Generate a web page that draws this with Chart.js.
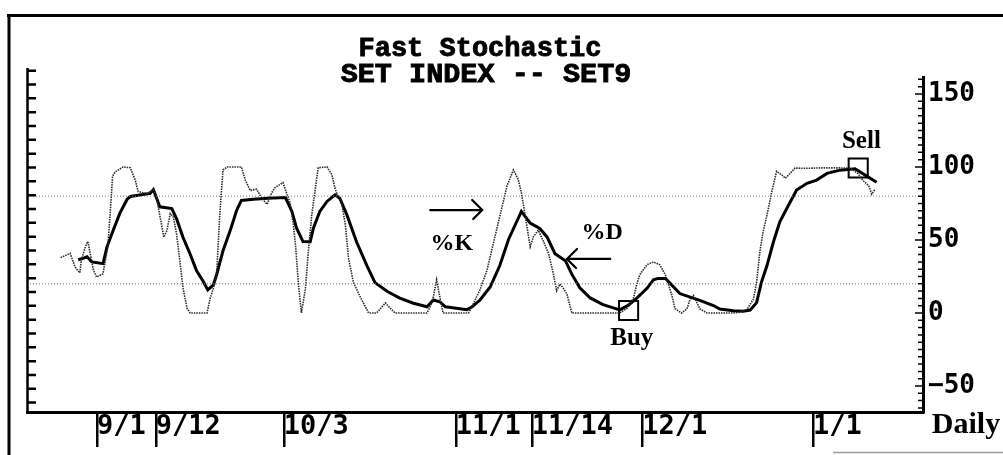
<!DOCTYPE html>
<html><head><meta charset="utf-8">
<script src="https://cdn.jsdelivr.net/npm/chart.js@4/dist/chart.umd.min.js"></script>
<style>html,body{margin:0;padding:0;background:#fff;overflow:hidden}</style>
</head><body>
<canvas id="c" width="1003" height="455"></canvas>
<script>
// ---- data (trading-day index on x, stochastic % on y) ----
const titleLines = ['Fast Stochastic', 'SET INDEX -- SET9'];
const tickDays   = [8.75, 16.1, 32.1, 53.6, 63.1, 76.9, 98.25];
const tickLabels = ['9/1', '9/12', '10/3', '11/1', '11/14', '12/1', '1/1'];
const yTickValues = [-50, 0, 50, 100, 150];
const refLevels = [80, 20];

const kDays = [4.2,5.4,6.0,6.6,6.8,7.3,7.6,7.9,8.3,8.7,
  9.5,10.1,10.4,10.7,11.0,12.0,12.9,13.5,13.9,15.0,
  15.8,16.2,16.4,16.8,17.1,17.5,17.9,18.3,18.7,19.1,
  19.5,20.0,20.4,22.5,22.9,23.3,23.7,24.1,24.5,25.0,
  26.8,27.3,27.9,28.7,29.3,30.0,30.6,31.0,32.0,32.5,
  32.9,33.3,33.6,33.9,34.3,34.8,35.2,35.6,36.0,36.4,
  37.5,38.1,38.5,38.8,39.3,39.8,40.2,40.8,41.6,42.7,
  43.7,44.8,45.2,46.0,50.0,50.4,50.8,51.2,51.6,52.0,
  55.2,55.8,56.6,57.5,58.3,59.1,60.0,60.8,61.4,61.8,
  62.3,62.9,63.3,63.9,64.5,65.2,65.8,66.2,66.6,67.0,
  67.5,68.1,74.1,75.0,75.8,76.2,76.6,77.5,78.3,79.1,
  79.8,80.2,80.6,81.0,81.8,82.5,82.9,83.3,83.7,84.1,
  85.0,88.3,89.1,90.0,90.8,91.2,91.6,92.0,92.5,93.1,
  93.7,94.3,94.8,95.4,96.0,97.5,99.5,102.9,103.9,104.5,
  105.2,105.6,106.0];
const kValues = [37.9,40.8,31.6,27.5,36.4,45.4,48.9,40.8,29.5,24.6,
  26.9,45.3,68.3,93.7,96.5,100,99.5,91.5,83.2,81.7,
  84.5,79.6,72.7,61.1,51.9,56.7,68.0,65.7,54.1,35.9,
  17.2,3.3,0,0,10.1,17.0,26.2,67.8,97.9,100,
  100,90.9,83.9,84.8,79.0,74.4,82.4,85.9,89.3,81.2,
  75.4,60.4,44.3,21.5,0,16.5,44.2,67.3,83.6,99.5,
  100,94.8,85.5,80.9,76.5,60.1,37.1,21.1,11.6,0,
  0,6.9,4.5,0,0,4.3,11.1,22.7,11.1,0,
  0,6.4,15.6,29.3,47.8,66.2,86.9,98,91.5,82.2,
  66.0,45.3,52.2,56.7,49.8,40.6,26.7,15.2,19.8,17.4,
  12.9,0,0,3.2,10.0,19.3,26.2,33.1,34.9,33.0,
  26.1,19.2,12.2,3.0,0,2.8,9.8,12.1,7.5,2.8,
  0,0,0.5,2.5,9.4,20.9,41.7,55.5,67.1,83.1,
  97.0,94.7,92.3,95.7,99.2,99.1,99.4,99.3,95.3,90.7,
  87.3,81.4,84.8];

const dDays = [6.4,7.0,7.5,8.1,9.5,10.0,10.8,11.6,12.5,12.9,
  14.5,15.4,15.8,16.6,18.1,18.7,19.5,20.4,21.2,22.0,
  22.6,23.3,23.7,24.5,25.4,26.2,26.8,28.3,30.1,32.3,
  33.1,33.7,34.5,35.4,35.8,36.6,37.5,38.5,39.1,40.0,
  41.2,42.5,43.5,45.0,46.6,48.3,50.0,50.8,51.6,52.3,
  55.0,55.6,56.6,57.9,59.1,60.2,61.8,62.9,64.1,65.0,
  66.0,67.3,68.1,69.1,70.4,72.0,74.1,75.2,76.2,77.5,
  78.3,78.9,79.8,80.4,81.6,82.9,84.1,85.8,86.6,88.3,
  89.5,90.4,91.2,91.8,92.5,93.3,94.1,95.2,96.2,97.5,
  98.7,100.0,101.6,103.5,104.5,106.2];
const dValues = [36.5,37.4,38.5,35.0,33.8,45.3,57.0,68.2,77.7,79.8,
  81.1,81.9,84.5,72.7,71.5,64.5,51.8,40.2,28.9,21.9,
  15.8,19.3,26.2,42.6,56.4,70.2,77.1,77.9,78.5,79.0,
  69.7,58.1,48.9,48.8,58.1,69.5,76.4,80.9,78.6,67.0,
  48.6,32.3,20.8,14.9,10.2,6.7,4.3,8.9,7.7,4.2,
  2.3,4.1,8.7,17.8,32.5,50.5,69.6,61.5,57.9,52.1,
  40.6,35.8,26.6,17.3,10.3,5.7,2.1,5.5,10.0,16.9,
  22.7,23.7,23.7,20.3,13.3,10.9,8.6,5.1,2.7,1.5,
  1.2,2.0,7.1,21.0,32.5,48.6,62.4,73.9,84.2,88.8,
  91.0,95.6,97.8,98.8,95.3,89.5];

const signalLabels = ['Buy', 'Sell'];
const signalDays   = [75.2, 103.9];
const signalValues = [1.7, 99.3];

// ---- annotation placement (data coordinates) ----
const notes = [
  {text: '%K',  x: 53.1,  y: 43.1, size: 24},
  {text: '%D',  x: 71.9,  y: 50.7, size: 24},
  {text: 'Sell', x: 104.3, y: 113.0, size: 25},
  {text: 'Buy', x: 75.6,  y: -21.9, size: 25}
];
const arrows = [
  {x0: 50.4, x1: 56.9, y: 70.5},
  {x0: 72.9, x1: 67.5, y: 37.0}
];

const pts = (xs, ys) => xs.map((v, i) => ({x: v, y: ys[i]}));

const deco = {
  id: 'deco',
  beforeDraw(chart) {
    const ctx = chart.ctx;
    ctx.save(); ctx.fillStyle = '#fff'; ctx.fillRect(0, 0, chart.width, chart.height); ctx.restore();
  },
  afterDraw(chart) {
    const {ctx, chartArea: a, scales: {x, y}} = chart;
    ctx.save();
    // outer frame
    ctx.strokeStyle = '#000'; ctx.lineWidth = 3;
    ctx.beginPath();
    ctx.moveTo(7, 15.5); ctx.lineTo(1003, 15.5);
    ctx.moveTo(9, 14); ctx.lineTo(9, 455);
    ctx.stroke();
    ctx.strokeStyle = '#999'; ctx.lineWidth = 1.5;
    ctx.beginPath(); ctx.moveTo(833, 452.5); ctx.lineTo(1003, 452.5); ctx.stroke();
    // left axis with inward ticks
    ctx.strokeStyle = '#000'; ctx.lineWidth = 2.5;
    ctx.beginPath();
    ctx.moveTo(a.left + 0.5, 68); ctx.lineTo(a.left + 0.5, a.bottom);
    for (let i = 0; i < 25; i++) {
      const yy = 70.7 + i * 13.83;
      ctx.moveTo(a.left, yy); ctx.lineTo(a.left + 9, yy);
    }
    ctx.stroke();
    // right axis inward minor ticks
    ctx.lineWidth = 1.5;
    ctx.beginPath();
    for (let v = -65; v <= 160; v += 5) {
      const yy = y.getPixelForValue(v);
      if (yy < a.top - 0.5 || yy > a.bottom) continue;
      const len = (v % 50 === 0) ? 8 : 5;
      ctx.moveTo(a.right, yy); ctx.lineTo(a.right - len, yy);
    }
    ctx.stroke();
    // title
    ctx.fillStyle = '#000'; ctx.strokeStyle = '#000'; ctx.lineWidth = 0.9;
    ctx.textAlign = 'center'; ctx.textBaseline = 'alphabetic';
    ctx.font = 'bold 27px "Liberation Mono"';
    ctx.fillText(titleLines[0], 480, 56); ctx.strokeText(titleLines[0], 480, 56);
    ctx.font = 'bold 28.5px "Liberation Mono"';
    ctx.fillText(titleLines[1], 486, 82); ctx.strokeText(titleLines[1], 486, 82);
    // notes
    notes.forEach(n => {
      ctx.font = 'bold ' + n.size + 'px "Liberation Serif"';
      ctx.fillText(n.text, x.getPixelForValue(n.x), y.getPixelForValue(n.y));
    });
    ctx.font = 'bold 30px "Liberation Serif"';
    ctx.fillText('Daily', a.right + 43, a.bottom + 21);
    // arrows
    ctx.lineWidth = 2.2; ctx.lineCap = 'round';
    arrows.forEach(ar => {
      const px0 = x.getPixelForValue(ar.x0), px1 = x.getPixelForValue(ar.x1), py = y.getPixelForValue(ar.y);
      const dir = Math.sign(px1 - px0);
      ctx.beginPath();
      ctx.moveTo(px0, py); ctx.lineTo(px1, py);
      ctx.moveTo(px1 - dir * 10, py - 10); ctx.lineTo(px1, py); ctx.lineTo(px1 - dir * 9, py + 9);
      ctx.stroke();
    });
    ctx.restore();
  }
};

new Chart(document.getElementById('c'), {
  type: 'line',
  data: {
    datasets: [
      {label: 'ref80', data: [{x: 0, y: refLevels[0]}, {x: 112, y: refLevels[0]}], borderColor: '#7a7a7a', borderWidth: 1, borderDash: [1, 2], pointRadius: 0},
      {label: 'ref20', data: [{x: 0, y: refLevels[1]}, {x: 112, y: refLevels[1]}], borderColor: '#7a7a7a', borderWidth: 1, borderDash: [1, 2], pointRadius: 0},
      {label: '%K', data: pts(kDays, kValues), borderColor: '#2a2a2a', borderWidth: 1.6, borderDash: [1.5, 1], pointRadius: 0, tension: 0},
      {label: '%D', data: pts(dDays, dValues), borderColor: '#000', borderWidth: 3, pointRadius: 0, tension: 0},
      {label: 'signals', data: pts(signalDays, signalValues), showLine: false, pointStyle: 'rect', pointRadius: 13.5, borderColor: '#000', borderWidth: 2, backgroundColor: 'rgba(0,0,0,0)'}
    ]
  },
  options: {
    responsive: false, animation: false, devicePixelRatio: 1,
    layout: {padding: {left: 27, top: 77, right: 0, bottom: 0}},
    plugins: {legend: {display: false}, title: {display: false}, tooltip: {enabled: false}},
    scales: {
      x: {
        type: 'linear', position: 'bottom', min: 0, max: 112,
        afterBuildTicks: s => { s.ticks = tickDays.map(v => ({value: v})); },
        afterFit: s => { s.height = 43; },
        grid: {drawOnChartArea: false, drawTicks: true, tickLength: 35, color: '#000', lineWidth: 2.5},
        border: {display: true, color: '#000', width: 3},
        ticks: {autoSkip: false, maxRotation: 0, minRotation: 0, align: 'start', padding: -36, color: '#000',
          font: {family: 'DejaVu Sans Mono', weight: 'bold', size: 27},
          callback: (v, i) => tickLabels[i]}
      },
      y: {
        type: 'linear', position: 'right', min: -67.8, max: 161.6,
        afterBuildTicks: s => { s.ticks = yTickValues.map(v => ({value: v})); },
        afterFit: s => { s.width = 80; },
        grid: {drawOnChartArea: false, drawTicks: false},
        border: {display: true, color: '#000', width: 3},
        ticks: {padding: 5, color: '#000', font: {family: 'DejaVu Sans Mono', weight: 'bold', size: 26},
          callback: v => (v < 0 ? '\u2212' + Math.abs(v) : String(v))}
      }
    }
  },
  plugins: [deco]
});
</script>
</body></html>
